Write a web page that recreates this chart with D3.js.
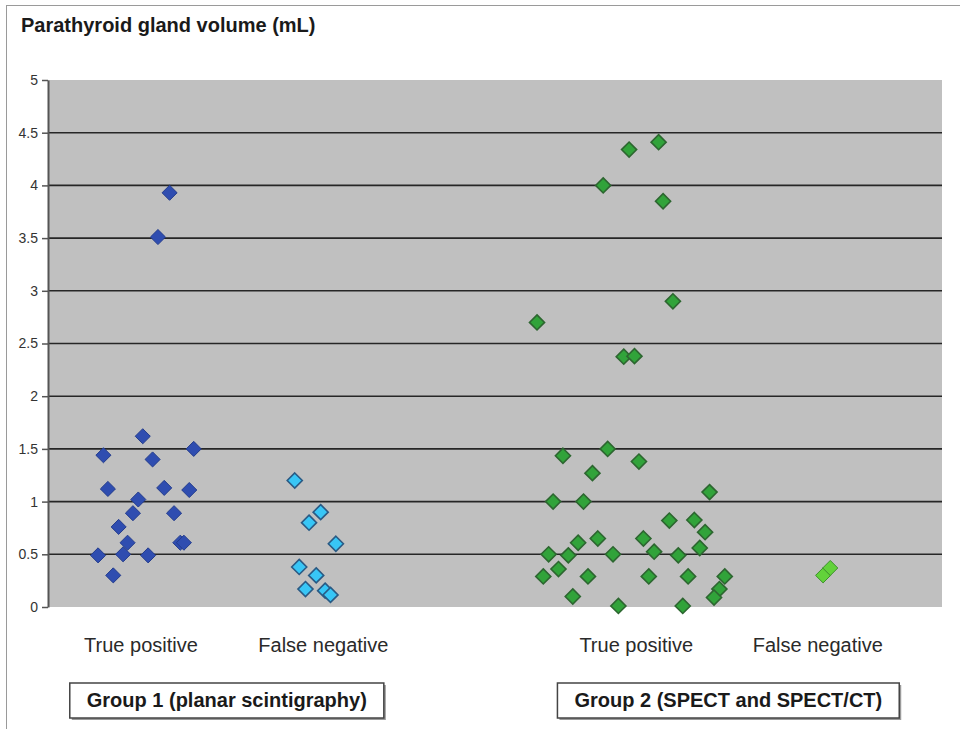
<!DOCTYPE html>
<html>
<head>
<meta charset="utf-8">
<script src="https://cdn.jsdelivr.net/npm/d3@7"></script>
<style>
  html, body { margin: 0; padding: 0; background: #fff; }
  svg { display: block; }
  text { font-family: "Liberation Sans", Arial, sans-serif; }
</style>
</head>
<body>
<svg id="chart" width="960" height="729"></svg>
<script>
// ---------- DATA ----------
const title = "Parathyroid gland volume (mL)";
const yTicks = [0, 0.5, 1, 1.5, 2, 2.5, 3, 3.5, 4, 4.5, 5];
const yTickLabels = ["0", "0.5", "1", "1.5", "2", "2.5", "3", "3.5", "4", "4.5", "5"];
const categories = ["True positive", "False negative", "True positive", "False negative"];
const categoryPos = [1.04, 3.08, 6.58, 8.61];
const groups = ["Group 1 (planar scintigraphy)", "Group 2 (SPECT and SPECT/CT)"];
const groupPos = [2.0, 7.61];

// [horizontal jitter position, volume mL]
const g1TruePositive = [
  [1.36, 3.93], [1.23, 3.51], [1.06, 1.62], [0.62, 1.44], [1.17, 1.40], [1.63, 1.50],
  [0.67, 1.12], [1.30, 1.13], [1.58, 1.11], [1.01, 1.02], [0.95, 0.89], [1.41, 0.89],
  [0.79, 0.76], [0.89, 0.61], [1.48, 0.61], [1.52, 0.61], [0.56, 0.49], [0.84, 0.50],
  [1.12, 0.49], [0.73, 0.30]
];
const g1FalseNegative = [
  [2.76, 1.20], [3.05, 0.90], [2.92, 0.80], [3.22, 0.60], [2.81, 0.38],
  [3.00, 0.30], [2.88, 0.17], [3.10, 0.155], [3.16, 0.115]
];
const g2TruePositive = [
  [6.50, 4.34], [6.83, 4.41], [6.21, 4.00], [6.88, 3.85], [6.99, 2.90], [5.47, 2.70],
  [6.44, 2.375], [6.56, 2.38], [5.76, 1.435], [6.26, 1.50], [6.61, 1.38], [6.09, 1.27],
  [5.65, 1.00], [5.99, 1.00], [7.40, 1.09], [6.95, 0.82], [7.23, 0.825], [7.35, 0.71],
  [5.93, 0.61], [6.15, 0.65], [6.66, 0.65], [5.60, 0.50], [5.82, 0.49], [6.32, 0.50],
  [6.78, 0.525], [7.05, 0.49], [7.29, 0.56], [5.71, 0.36], [5.54, 0.29], [6.04, 0.29],
  [6.72, 0.29], [7.16, 0.29], [7.57, 0.29], [5.87, 0.10], [7.51, 0.17], [7.45, 0.09],
  [6.38, 0.01], [7.10, 0.01]
];
const g2FalseNegative = [[8.67, 0.30], [8.75, 0.37]];

const series = [
  { data: g1TruePositive,  fill: "#2f4db0", stroke: "#233c8c", sw: 1 },
  { data: g1FalseNegative, fill: "#38c6f6", stroke: "#2a5a84", sw: 1.6 },
  { data: g2TruePositive,  fill: "#31a33a", stroke: "#2d6630", sw: 1.6 },
  { data: g2FalseNegative, fill: "#62d23a", stroke: "#3d8f2c", sw: 1 }
];

// ---------- LAYOUT ----------
const svg = d3.select("#chart");
const plot = { left: 48, right: 942, top: 80, bottom: 607 };

const x = d3.scaleLinear().domain([0, 10]).range([plot.left, plot.right]);
const y = d3.scaleLinear().domain([0, 5]).range([plot.bottom, plot.top]);

// outer frame (top & left)
svg.append("line").attr("x1", 6).attr("x2", 960).attr("y1", 5.5).attr("y2", 5.5)
  .attr("stroke", "#9a9a9a").attr("stroke-width", 1);
svg.append("line").attr("x1", 6.5).attr("x2", 6.5).attr("y1", 5).attr("y2", 729)
  .attr("stroke", "#9a9a9a").attr("stroke-width", 1);

// title
svg.append("text").attr("x", 21).attr("y", 32)
  .attr("font-size", 20).attr("font-weight", "bold").attr("fill", "#1a1a1a")
  .text(title);

// plot background
svg.append("rect")
  .attr("x", plot.left).attr("y", plot.top)
  .attr("width", plot.right - plot.left).attr("height", plot.bottom - plot.top)
  .attr("fill", "#c0c0c0");

// gridlines
svg.append("g").selectAll("line")
  .data(yTicks.filter(d => d > 0 && d < 5))
  .join("line")
  .attr("x1", plot.left).attr("x2", plot.right)
  .attr("y1", d => y(d)).attr("y2", d => y(d))
  .attr("stroke", "#262626").attr("stroke-width", 1.6);

// y axis
const yAxis = d3.axisLeft(y).tickValues(yTicks)
  .tickFormat((d, i) => yTickLabels[i]).tickSizeInner(6).tickSizeOuter(0).tickPadding(4);
const ga = svg.append("g").attr("transform", `translate(${plot.left},0)`).call(yAxis);
ga.select(".domain").attr("stroke", "#555").attr("stroke-width", 2);
ga.selectAll(".tick line").attr("stroke", "#555").attr("stroke-width", 1.5);
ga.selectAll(".tick text").attr("font-size", 14).attr("fill", "#333")
  .attr("font-family", "'Liberation Sans', Arial, sans-serif");

// markers
const diamond = d3.symbol().type(d3.symbolDiamond2).size(145);
series.forEach(s => {
  svg.append("g").selectAll("path")
    .data(s.data)
    .join("path")
    .attr("d", diamond)
    .attr("transform", d => `translate(${x(d[0])},${y(d[1])})`)
    .attr("fill", s.fill)
    .attr("stroke", s.stroke)
    .attr("stroke-width", s.sw);
});

// category labels
svg.append("g").selectAll("text")
  .data(categories)
  .join("text")
  .attr("x", (d, i) => x(categoryPos[i]))
  .attr("y", 652)
  .attr("text-anchor", "middle")
  .attr("font-size", 20).attr("fill", "#2a2a2a")
  .text(d => d);

// group boxes
groups.forEach((g, i) => {
  const gg = svg.append("g");
  const t = gg.append("text")
    .attr("x", x(groupPos[i])).attr("y", 707)
    .attr("text-anchor", "middle")
    .attr("font-size", 20).attr("font-weight", "bold").attr("fill", "#1a1a1a")
    .text(g);
  const bb = t.node().getBBox();
  const padX = 17;
  // shadow
  gg.insert("rect", "text")
    .attr("x", bb.x - padX + 2).attr("y", 683 + 2)
    .attr("width", bb.width + 2 * padX).attr("height", 35)
    .attr("fill", "#9a9a9a");
  gg.insert("rect", "text")
    .attr("x", bb.x - padX).attr("y", 683)
    .attr("width", bb.width + 2 * padX).attr("height", 35)
    .attr("fill", "#fff").attr("stroke", "#444").attr("stroke-width", 1.5);
});
</script>
</body>
</html>
